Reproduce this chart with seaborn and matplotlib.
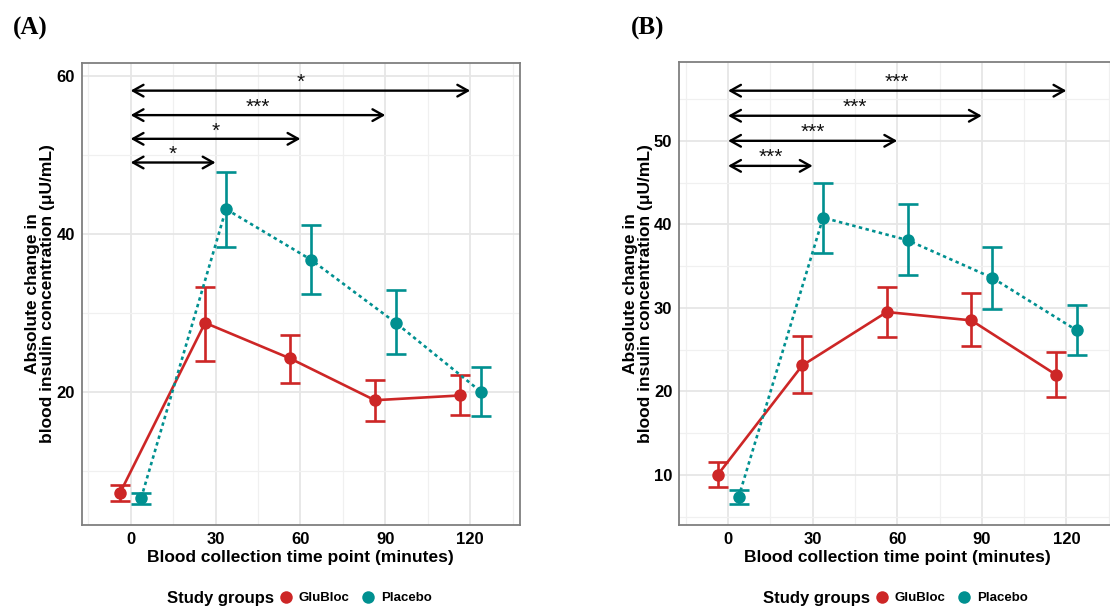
import pandas as pd
import matplotlib
matplotlib.use('Agg')
import matplotlib.pyplot as plt
from matplotlib.lines import Line2D
from matplotlib.ticker import MultipleLocator
import seaborn as sns

# time points and groups
times = [0, 30, 60, 90, 120]
groups = ['GluBloc', 'Placebo']

# panel A: mean and error limits
a_glu_mean = [7.2, 28.7, 24.2, 18.9, 19.5]
a_glu_low = [6.1, 23.9, 21.1, 16.3, 17.0]
a_glu_high = [8.2, 33.2, 27.2, 21.4, 22.1]
a_pla_mean = [6.5, 43.1, 36.7, 28.7, 20.0]
a_pla_low = [5.7, 38.3, 32.4, 24.7, 16.9]
a_pla_high = [7.2, 47.8, 41.1, 32.9, 23.1]

# panel B
b_glu_mean = [10.0, 23.1, 29.5, 28.5, 22.0]
b_glu_low = [8.6, 19.8, 26.5, 25.4, 19.3]
b_glu_high = [11.6, 26.6, 32.5, 31.8, 24.7]
b_pla_mean = [7.3, 40.8, 38.1, 33.6, 27.3]
b_pla_low = [6.5, 36.6, 33.9, 29.9, 24.3]
b_pla_high = [8.2, 44.9, 42.4, 37.3, 30.3]

# significance comparisons vs time 0
comp_end = [30, 60, 90, 120]
a_stars = ['*', '*', '***', '*']
b_stars = ['***', '***', '***', '***']
a_levels = [49.0, 52.0, 55.0, 58.1]
b_levels = [47.0, 50.0, 53.0, 56.0]

palette = {'GluBloc': '#CD2626', 'Placebo': '#009090'}
dodge = {'GluBloc': -3.7, 'Placebo': 3.7}

sns.set_style('white')
plt.rcParams['font.family'] = ['Liberation Sans', 'DejaVu Sans']
plt.rcParams['font.weight'] = 'bold'
plt.rcParams['text.color'] = 'black'
plt.rcParams['axes.labelcolor'] = 'black'
plt.rcParams['xtick.color'] = 'black'
plt.rcParams['ytick.color'] = 'black'


def make_df(glu, pla):
    rows = []
    for g, (m, lo, hi) in zip(groups, [glu, pla]):
        for t, a, b, c in zip(times, m, lo, hi):
            rows.append({'time': t, 'group': g, 'mean': a, 'low': b, 'high': c})
    df = pd.DataFrame(rows)
    df['x'] = df['time'] + df['group'].map(dodge)
    return df


def draw_panel(ax, df, stars, levels, ylim, ymajor, yminor):
    ax.set_axisbelow(True)
    ax.xaxis.set_major_locator(MultipleLocator(30))
    ax.xaxis.set_minor_locator(MultipleLocator(15))
    ax.yaxis.set_major_locator(MultipleLocator(ymajor))
    ax.yaxis.set_minor_locator(MultipleLocator(yminor))
    ax.grid(which='major', color='#E6E6E6', lw=1.3)
    ax.grid(which='minor', color='#F0F0F0', lw=0.9)

    sns.lineplot(data=df, x='x', y='mean', hue='group', style='group',
                 palette=palette, dashes={'GluBloc': '', 'Placebo': (1.3, 1.3)},
                 markers={'GluBloc': 'o', 'Placebo': 'o'}, markersize=9,
                 markeredgewidth=0, linewidth=1.9, legend=False, ax=ax, zorder=3)
    for g, sub in df.groupby('group'):
        ax.errorbar(sub['x'], sub['mean'],
                    yerr=[sub['mean'] - sub['low'], sub['high'] - sub['mean']],
                    fmt='none', ecolor=palette[g], elinewidth=1.9,
                    capsize=7.5, capthick=1.9, zorder=2)

    for end, s, y in zip(comp_end, stars, levels):
        ax.annotate('', xy=(end, y), xytext=(0, y),
                    arrowprops=dict(arrowstyle='<->,head_length=0.75,head_width=0.42',
                                    lw=1.7, color='black', shrinkA=0, shrinkB=0))
        ax.text(end / 2, y + 1.0, s, ha='center', va='center', fontsize=15,
                fontweight='normal', color='#111111')

    ax.set_xlim(-17.3, 137.6)
    ax.set_ylim(*ylim)
    ax.set_xlabel('Blood collection time point (minutes)', fontsize=12.5,
                  fontweight='bold', labelpad=2)
    ax.set_ylabel('Absolute change in\nblood insulin concentration (μU/mL)',
                  fontsize=12.5, fontweight='bold', linespacing=1.0, labelpad=1)
    ax.tick_params(axis='both', labelsize=12, length=3, width=0.8,
                   color='#7F7F7F', pad=2)
    for lab in ax.get_xticklabels() + ax.get_yticklabels():
        lab.set_fontweight('bold')
    for sp in ax.spines.values():
        sp.set_color('#7F7F7F')
        sp.set_linewidth(1.3)


fig = plt.figure(figsize=(11.1, 6.08), dpi=100)
W, H = 1110, 608
ax_a = fig.add_axes([81.7 / W, (H - 525) / H, (520 - 81.7) / W, (525 - 63) / H])
ax_b = fig.add_axes([679.3 / W, (H - 525) / H, (1116 - 679.3) / W, (525 - 62.3) / H])

draw_panel(ax_a, make_df((a_glu_mean, a_glu_low, a_glu_high),
                         (a_pla_mean, a_pla_low, a_pla_high)),
           a_stars, a_levels, (3.1, 61.6), 20, 10)
draw_panel(ax_b, make_df((b_glu_mean, b_glu_low, b_glu_high),
                         (b_pla_mean, b_pla_low, b_pla_high)),
           b_stars, b_levels, (4.0, 59.4), 10, 5)

# panel letters
fig.text(13 / W, 1 - 28 / H, '(A)', family='Liberation Serif', fontsize=18,
         fontweight='bold', va='center', ha='left')
fig.text(631 / W, 1 - 28 / H, '(B)', family='Liberation Serif', fontsize=18,
         fontweight='bold', va='center', ha='left')

# legends below each panel
handles = [Line2D([], [], marker='o', ls='', color=palette[g], markersize=9,
                  markeredgewidth=0) for g in groups]
for x_title, x_leg in [(167, 279), (763, 875)]:
    fig.text(x_title / W, 1 - 598 / H, 'Study groups', fontsize=12,
             fontweight='bold', va='center', ha='left')
    fig.legend(handles, groups, loc='center left',
               bbox_to_anchor=(x_leg / W, 1 - 598 / H), ncol=2, frameon=False,
               prop={'size': 9.5, 'weight': 'bold'}, handlelength=1.0,
               handletextpad=0.5, columnspacing=0.9, borderpad=0, borderaxespad=0)

fig.savefig('out.png', dpi=100)
